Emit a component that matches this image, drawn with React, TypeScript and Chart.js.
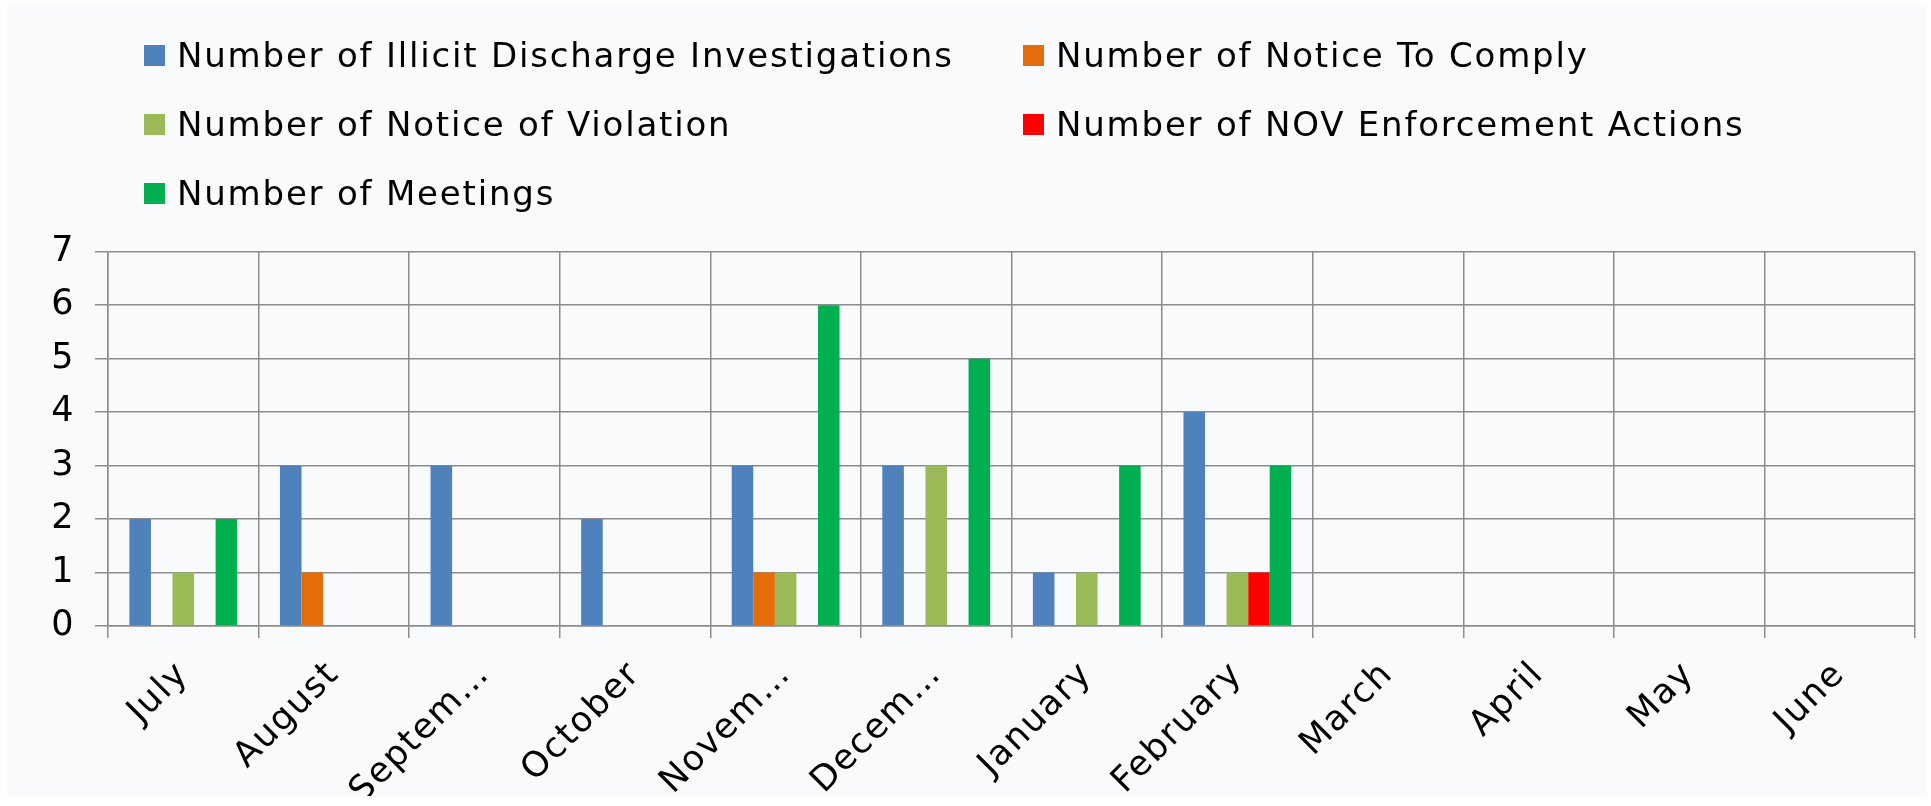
import React, { useEffect, useRef } from "react";
import { Chart, registerables } from "chart.js";

Chart.register(...registerables);

const months = [
  "July", "August", "Septem…", "October", "Novem…", "Decem…",
  "January", "February", "March", "April", "May", "June",
];

const investigations = [2, 3, 3, 2, 3, 3, 1, 4, 0, 0, 0, 0];
const noticeToComply = [0, 1, 0, 0, 1, 0, 0, 0, 0, 0, 0, 0];
const noticeOfViolation = [1, 0, 0, 0, 1, 3, 1, 1, 0, 0, 0, 0];
const novEnforcement = [0, 0, 0, 0, 0, 0, 0, 1, 0, 0, 0, 0];
const meetings = [2, 0, 0, 0, 6, 5, 3, 3, 0, 0, 0, 0];

const seriesNames = [
  "Number of Illicit Discharge Investigations",
  "Number of Notice To Comply",
  "Number of Notice of Violation",
  "Number of NOV Enforcement Actions",
  "Number of Meetings",
];
const seriesColors = ["#4F81BD", "#E46C0A", "#9BBB59", "#FF0000", "#00B050"];
const yTicks = [0, 1, 2, 3, 4, 5, 6, 7];

const FONT = "'DejaVu Sans', Verdana, sans-serif";
const GRID = "#8C8C8C";

const spacingPlugin = {
  id: "spacing",
  beforeDraw(chart: any) {
    (chart.ctx as any).letterSpacing = "1.6px";
  },
  afterDraw(chart: any) {
    (chart.ctx as any).letterSpacing = "0px";
  },
};

const legendPlugin = {
  id: "gridLegend",
  afterDraw(chart: any) {
    const ctx = chart.ctx;
    const cols = [137, 1016];
    const rows = [40, 109, 178];
    const order = [
      [0, 0, 0], [1, 1, 0], [2, 0, 1], [3, 1, 1], [4, 0, 2],
    ];
    ctx.save();
    ctx.font = `34px ${FONT}`;
    (ctx as any).letterSpacing = "1.8px";
    ctx.textBaseline = "alphabetic";
    ctx.textAlign = "left";
    order.forEach(([di, c, r]) => {
      const ds = chart.data.datasets[di];
      const x = cols[c];
      const y = rows[r];
      ctx.fillStyle = ds.backgroundColor;
      ctx.fillRect(x, y, 21, 21);
      ctx.fillStyle = "#000";
      ctx.fillText(ds.label, x + 33, y + 22);
    });
    ctx.restore();
  },
};

export default function App() {
  const ref = useRef<HTMLCanvasElement>(null);
  useEffect(() => {
    const values = [investigations, noticeToComply, noticeOfViolation, novEnforcement, meetings];
    const chart = new Chart(ref.current!, {
      type: "bar",
      data: {
        labels: months,
        datasets: values.map((v, i) => ({
          label: seriesNames[i],
          data: v,
          backgroundColor: seriesColors[i],
          borderWidth: 0,
          categoryPercentage: 0.716,
          barPercentage: 1,
        })),
      },
      options: {
        animation: false,
        responsive: false,
        maintainAspectRatio: false,
        layout: { padding: { top: 246.7, right: 12, left: 0, bottom: 0 } },
        plugins: {
          legend: { display: false },
          tooltip: { enabled: false },
        },
        scales: {
          x: {
            offset: true,
            grid: { color: GRID, lineWidth: 1.5, tickLength: 12, offset: true },
            border: { color: GRID, width: 1.5 },
            ticks: {
              color: "#000",
              font: { family: FONT, size: 35 },
              maxRotation: 45,
              minRotation: 45,
              padding: 16,
              autoSkip: false,
            },
            afterFit: (s: any) => { s.height = 170; },
          },
          y: {
            min: 0,
            max: 7,
            afterBuildTicks: (s: any) => { s.ticks = yTicks.map((v) => ({ value: v })); },
            grid: { color: GRID, lineWidth: 1.5, tickLength: 13 },
            border: { color: GRID, width: 1.5 },
            ticks: {
              color: "#000",
              font: { family: FONT, size: 35 },
              padding: 20,
            },
            afterFit: (s: any) => { s.width = 101; },
          },
        },
      },
      plugins: [spacingPlugin, legendPlugin],
    });
    return () => chart.destroy();
  }, []);
  return (
    <div style={{ position: "absolute", left: 7, top: 5, width: 1920, height: 791, background: "#F8FAFC" }}>
      <canvas ref={ref} width={1920} height={791} style={{ display: "block", width: 1920, height: 791 }} />
    </div>
  );
}
